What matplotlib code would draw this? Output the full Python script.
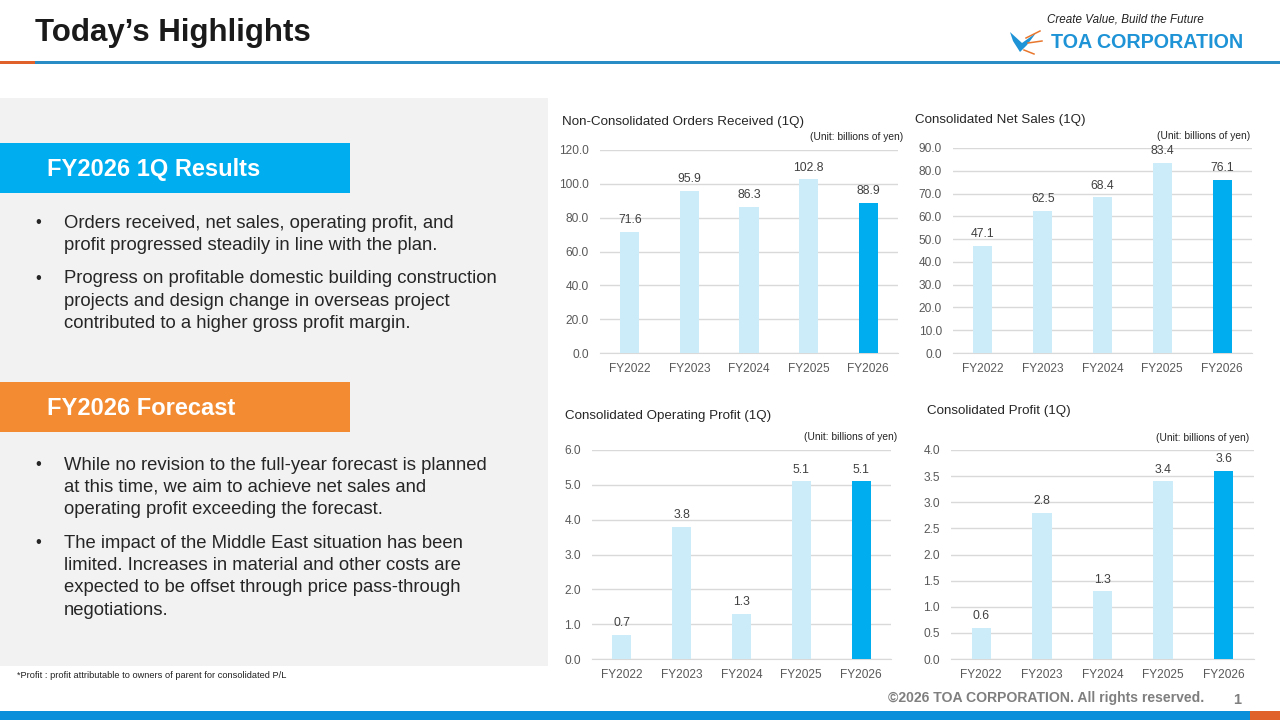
import matplotlib
matplotlib.use("Agg")
import matplotlib.pyplot as plt
from matplotlib.patches import Rectangle, Polygon

plt.rcParams['font.family'] = ['Liberation Sans', 'DejaVu Sans']

W, H = 1280, 720

# chart data
years = ["FY2022", "FY2023", "FY2024", "FY2025", "FY2026"]
orders = [71.6, 95.9, 86.3, 102.8, 88.9]
net_sales = [47.1, 62.5, 68.4, 83.4, 76.1]
op_profit = [0.7, 3.8, 1.3, 5.1, 5.1]
profit = [0.6, 2.8, 1.3, 3.4, 3.6]

results_bullets = [
    ["Orders received, net sales, operating profit, and",
     "profit progressed steadily in line with the plan."],
    ["Progress on profitable domestic building construction",
     "projects and design change in overseas project",
     "contributed to a higher gross profit margin."],
]
forecast_bullets = [
    ["While no revision to the full-year forecast is planned",
     "at this time, we aim to achieve net sales and",
     "operating profit exceeding the forecast."],
    ["The impact of the Middle East situation has been",
     "limited. Increases in material and other costs are",
     "expected to be offset through price pass-through",
     "negotiations."],
]

LIGHT = "#CCECFA"
HIGHLIGHT = "#00AEEF"
GRID = "#D9D9D9"
TICK = "#595959"
DARK = "#262626"

fig = plt.figure(figsize=(12.8, 7.2), dpi=100)
fig.patch.set_facecolor("white")

# background layer in pixel coordinates
bg = fig.add_axes([0, 0, 1, 1])
bg.set_xlim(0, W)
bg.set_ylim(H, 0)
bg.axis("off")

# header
bg.text(35, 33, "Today\u2019s Highlights", fontsize=22.5, fontweight="bold",
        color="#1A1A1A", va="center", ha="left")
bg.add_patch(Rectangle((0, 60.5), W, 3, color="#2A8CC4", lw=0))
bg.add_patch(Rectangle((0, 60.5), 35, 3, color="#E0622A", lw=0))

# logo
bg.text(1204, 19, "Create Value, Build the Future", fontsize=8.4, style="italic",
        color="#222222", ha="right", va="center")
bg.text(1243, 42, "TOA CORPORATION", fontsize=14.2, fontweight="bold",
        color="#1E93D6", ha="right", va="center")
bg.add_patch(Polygon([(1010, 32), (1022, 43), (1036, 33), (1027, 45), (1020, 52),
                      (1013, 41)], closed=True, color="#1E93D6", lw=0))
bg.plot([1026, 1040], [38, 31], color="#E8772E", lw=1.1)
bg.plot([1028, 1042], [43, 41], color="#E8772E", lw=1.1)
bg.plot([1024, 1034], [50, 54], color="#E8772E", lw=1.1)

# left panel
bg.add_patch(Rectangle((0, 98), 548, 568, color="#F2F2F2", lw=0))
bg.add_patch(Rectangle((0, 143), 350, 50, color="#00ADEE", lw=0))
bg.text(47, 169.5, "FY2026 1Q Results", fontsize=17, fontweight="bold",
        color="white", va="center")
bg.add_patch(Rectangle((0, 382), 350, 50, color="#F28B31", lw=0))
bg.text(47, 408.5, "FY2026 Forecast", fontsize=17, fontweight="bold",
        color="white", va="center")


def draw_bullets(items, y_start, gap):
    y = y_start
    for lines in items:
        bg.text(35, y, "\u2022", fontsize=12, color=DARK, va="center")
        for line in lines:
            bg.text(64, y, line, fontsize=13.3, color=DARK, va="center")
            y += 22.5
        y += gap


draw_bullets(results_bullets, 223, 10.5)
draw_bullets(forecast_bullets, 465, 10.5)

bg.text(17, 675, "*Profit : profit attributable to owners of parent for consolidated P/L",
        fontsize=6.7, color="#222222", va="center")

# footer
bg.text(1204, 698, "\u00a92026 TOA CORPORATION. All rights reserved.", fontsize=10.1,
        fontweight="bold", color="#7F7F7F", ha="right", va="center")
bg.text(1237, 700, "1", fontsize=10.5, fontweight="bold", color="#7F7F7F",
        ha="center", va="center")
bg.add_patch(Rectangle((0, 711), W, 9, color="#0A8FDB", lw=0))
bg.add_patch(Rectangle((1250, 711), 30, 9, color="#E0622A", lw=0))


def bar_chart(vals, top, step, x0, x1, y0, y1, title, tpos, upos):
    ax = fig.add_axes([x0 / W, 1 - y1 / H, (x1 - x0) / W, (y1 - y0) / H])
    ax.patch.set_alpha(0)
    cols = [LIGHT] * (len(vals) - 1) + [HIGHLIGHT]
    xs = range(len(vals))
    ax.bar(xs, vals, width=0.32, color=cols, zorder=3)
    for x, v in zip(xs, vals):
        ax.annotate(f"{v:.1f}", (x, v), xytext=(0, 4), textcoords="offset points",
                    ha="center", va="bottom", fontsize=8.8, color="#404040")
    ax.set_xlim(-0.5, len(vals) - 0.5)
    ax.set_ylim(0, top)
    n = int(round(top / step))
    ax.set_yticks([i * step for i in range(n + 1)])
    ax.set_yticklabels([f"{i * step:.1f}" for i in range(n + 1)])
    ax.set_xticks(list(xs))
    ax.set_xticklabels(years)
    ax.grid(axis="y", color=GRID, lw=1, zorder=0)
    for s in ["top", "right", "left"]:
        ax.spines[s].set_visible(False)
    ax.spines["bottom"].set_color(GRID)
    ax.tick_params(length=0, labelsize=8.6, colors=TICK)
    ax.tick_params(axis="y", pad=8)
    ax.tick_params(axis="x", pad=7)
    bg.text(tpos[0], tpos[1], title, fontsize=9.6, color=DARK, va="center")
    bg.text(upos[0], upos[1], "(Unit: billions of yen)", fontsize=7.4,
            color=DARK, ha="right", va="center")
    return ax


bar_chart(orders, 120, 20, 600, 898, 150, 353,
          "Non-Consolidated Orders Received (1Q)", (562, 122), (903, 137))
bar_chart(net_sales, 90, 10, 953, 1252, 148, 353,
          "Consolidated Net Sales (1Q)", (915, 120), (1250, 136))
bar_chart(op_profit, 6, 1, 592, 891, 450, 659,
          "Consolidated Operating Profit (1Q)", (565, 416), (897, 437))
bar_chart(profit, 4, 0.5, 951, 1254, 450, 659,
          "Consolidated Profit (1Q)", (927, 411), (1249, 438))

fig.savefig("out.png", dpi=100)
